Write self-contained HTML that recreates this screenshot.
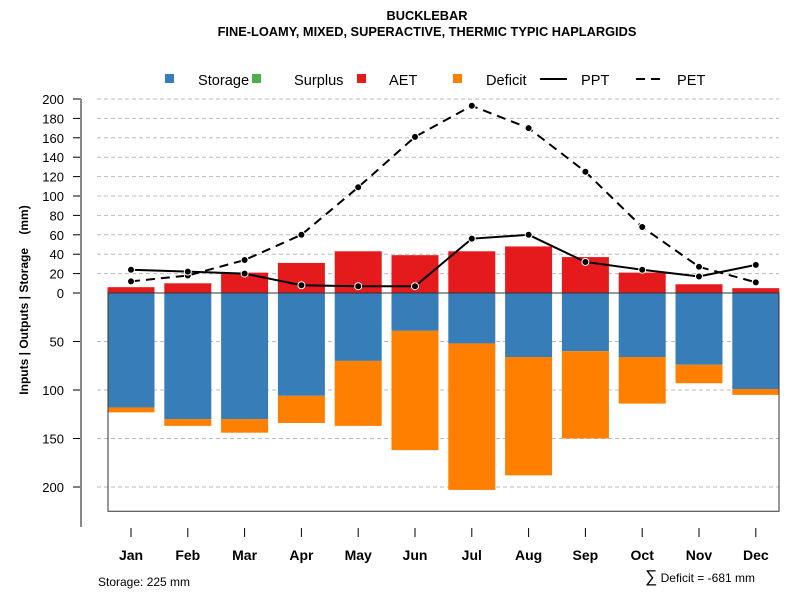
<!DOCTYPE html>
<html><head><meta charset="utf-8"><style>body{margin:0;background:#fff}svg{display:block;font-family:"Liberation Sans",sans-serif}</style></head>
<body>
<svg id="c" width="800" height="600" viewBox="0 0 800 600" xmlns="http://www.w3.org/2000/svg">
<rect width="800" height="600" fill="#fff"/>
<text x="427" y="20" text-anchor="middle" font-size="12.8" font-weight="bold">BUCKLEBAR</text>
<text x="427" y="36" text-anchor="middle" font-size="12.8" font-weight="bold">FINE-LOAMY, MIXED, SUPERACTIVE, THERMIC TYPIC HAPLARGIDS</text>
<g id="legend" font-size="14.6">
<rect x="165" y="74" width="9" height="9" fill="#377eb8"/>
<text x="198" y="85">Storage</text>
<rect x="252" y="74" width="9" height="9" fill="#4daf4a"/>
<text x="294" y="85">Surplus</text>
<rect x="357" y="74" width="9" height="9" fill="#e41a1c"/>
<text x="389" y="85">AET</text>
<rect x="453" y="74" width="9" height="9" fill="#ff7f00"/>
<text x="486" y="85">Deficit</text>
<line x1="540" y1="79" x2="567" y2="79" stroke="#000" stroke-width="2"/>
<text x="581" y="85">PPT</text>
<line x1="587" y1="79" x2="617" y2="79" stroke="#000" stroke-width="2" stroke-dasharray="9,6" transform="translate(49,0)"/>
<text x="677" y="85">PET</text>
</g>
<g id="grid"></g>
<g id="bars"></g>
<g id="lines"></g>
<g id="axes"></g>
<text transform="translate(28,300) rotate(-90)" text-anchor="middle" font-size="12" font-weight="bold" xml:space="preserve">Inputs | Outputs | Storage    (mm)</text>
<text x="98" y="586" font-size="12">Storage: 225 mm</text>
<text x="755" y="582" text-anchor="end" font-size="12"><tspan font-size="17">∑</tspan> Deficit = -681 mm</text>
</svg>
<script>
const months=["Jan","Feb","Mar","Apr","May","Jun","Jul","Aug","Sep","Oct","Nov","Dec"];
const aet=[6,10,21,31,43,39,43,48,37,21,9,5];
const storage=[118,130,130,106,70,39,52,66,60,66,74,99];
const deficit=[5,7,14,28,67,123,151,122,90,48,19,6];
const ppt=[24,22,20,8,7,7,56,60,32,24,17,29];
const pet=[12,18,34,60,109,161,193,170,125,68,27,11];
const upTicks=[0,20,40,60,80,100,120,140,160,180,200];
const downTicks=[50,100,150,200];
const NS="http://www.w3.org/2000/svg";
const y0=293,k=0.97;
const yUp=v=>y0-v*k, yDown=v=>y0+v*k;
const xc=i=>131+i*56.8, bw=47;
function mk(t,a,p){const e=document.createElementNS(NS,t);for(const n in a)e.setAttribute(n,a[n]);document.getElementById(p).appendChild(e);return e;}
upTicks.forEach(v=>{
 if(v>0){const g=mk('line',{x1:97,x2:779,y1:yUp(v),y2:yUp(v),stroke:'#bbb','stroke-dasharray':'4,3'},'grid');
 
 }
 const t=mk('line',{x1:73,x2:81,y1:yUp(v),y2:yUp(v),stroke:'#000'},'axes');
 
 
 const l=mk('text',{x:64,y:yUp(v)+5,'text-anchor':'end','font-size':13},'axes');l.textContent=v;
 
 
});
downTicks.forEach(v=>{
 const g=mk('line',{x1:97,x2:779,y1:yDown(v),y2:yDown(v),stroke:'#bbb','stroke-dasharray':'4,3'},'grid');
 
 
 const t=mk('line',{x1:73,x2:81,y1:yDown(v),y2:yDown(v),stroke:'#000'},'axes');
 
 
 const l=mk('text',{x:64,y:yDown(v)+5,'text-anchor':'end','font-size':13},'axes');l.textContent=v;
 
 
});
const box=mk('rect',{x:108,y:y0,width:671,height:yDown(225)-y0,fill:'none',stroke:'#333'},'axes');


const ax=mk('line',{x1:81,x2:81,y1:99,y2:527,stroke:'#888','stroke-width':2},'axes');


months.forEach((m,i)=>{
 const x=xc(i)-bw/2;
 const a=mk('rect',{x:x,y:yUp(aet[i]),width:bw,height:aet[i]*k,fill:'#e41a1c'},'bars');
 
 
 const s=mk('rect',{x:x,y:y0,width:bw,height:storage[i]*k,fill:'#377eb8'},'bars');
 
 
 const d=mk('rect',{x:x,y:yDown(storage[i]),width:bw,height:deficit[i]*k,fill:'#ff7f00'},'bars');
 
 
 const t=mk('line',{x1:xc(i),x2:xc(i),y1:528,y2:537,stroke:'#000'},'axes');
 
 
 const l=mk('text',{x:xc(i),y:560,'text-anchor':'middle','font-size':14,'font-weight':'bold'},'axes');l.textContent=m;
 
 
});
const zl=mk('line',{x1:108,x2:779,y1:y0,y2:y0,stroke:'#000'},'bars');


function series(vals,name,dash){
 const p=mk('polyline',{points:vals.map((v,i)=>xc(i)+','+yUp(v)).join(' '),fill:'none',stroke:'#000','stroke-width':2,'stroke-dasharray':dash},'lines');
 
 
 vals.forEach((v,i)=>{const c=mk('circle',{cx:xc(i),cy:yUp(v),r:3.5,fill:'#000',stroke:'#fff','stroke-width':1},'lines');
 
 });
}
series(pet,'pet','9,6');
series(ppt,'ppt','none');
</script>
</body></html>
